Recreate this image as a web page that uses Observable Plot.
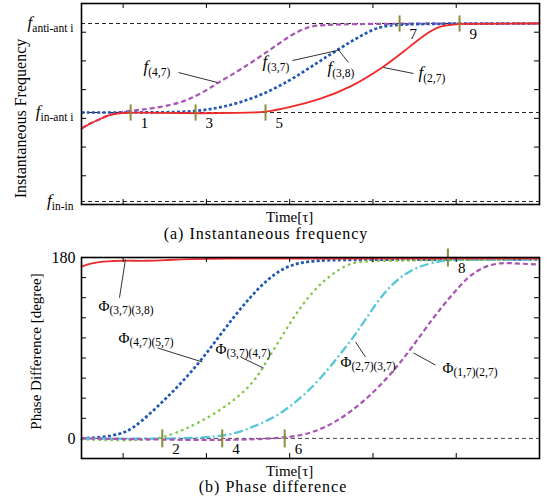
<!DOCTYPE html>
<html><head><meta charset="utf-8">
<script src="https://cdn.jsdelivr.net/npm/d3@7"></script>
<script src="https://cdn.jsdelivr.net/npm/@observablehq/plot@0.6"></script>
<style>
body{margin:0;background:#fff;}
#wrap{position:relative;width:547px;height:500px;font-family:"Liberation Serif",serif;overflow:hidden;}
#wrap svg{display:block;position:absolute;left:0;}
.cap{position:absolute;font-size:16px;letter-spacing:1px;white-space:nowrap;transform:translateX(-50%);line-height:14px;color:#000;}
</style></head><body><div id="wrap"></div>
<script>
// ---------- data ----------
const timeTicks = [0.5, 1.5, 2.5, 3.5, 4.5];
const freqLevels = [0, 1, 2];
const freqLevelLabels = ["f_in-in", "f_in-ant i", "f_anti-ant i"];
const phaseTickLabels = [0, 180];
const phaseMinorTicks = [20, 40, 60, 80, 100, 120, 140, 160];

// (a) instantaneous frequency (0 = f in-in, 1 = f in-anti, 2 = f anti-anti)
const f47_t = [0,0.11,0.23,0.35,0.50,0.71,0.95,1.19,1.31,1.47,1.63,1.91,2.23,2.51,2.71,2.91,5.5];
const f47_v = [0.82,0.88,0.93,0.98,1.01,1.03,1.06,1.11,1.16,1.23,1.33,1.48,1.68,1.87,1.96,2.0,2.0];
const f37_t = [0,0.47,0.95,1.37,1.71,2.11,2.51,2.83,3.07,3.31,3.55,3.80,5.5];
const f37_v = [1.0,1.0,1.0,1.01,1.06,1.17,1.36,1.56,1.70,1.84,1.96,2.0,2.0];
const f27_t = [0,0.11,0.23,0.35,0.47,0.65,0.95,1.43,1.91,2.21,2.51,2.87,3.23,3.63,3.89,4.11,4.31,4.52,5.5];
const f27_v = [0.82,0.88,0.93,0.98,0.995,1.0,0.995,0.99,0.995,1.0,1.06,1.15,1.28,1.51,1.70,1.87,1.98,2.0,2.0];

const fMarkT = [0.59, 1.37, 2.21, 3.82, 4.54];
const fMarkV = [1.0, 1.0, 1.0, 2.0, 2.0];
const fMarkLabels = ["1", "3", "5", "7", "9"];

const fLabels = ["f_(4,7)", "f_(3,7)", "f_(3,8)", "f_(2,7)"];
const fLabelT = [0.745, 2.174, 2.954, 4.047];
const fLabelV = [1.506, 1.562, 1.494, 1.438];
const fLeadT1 = [1.165, 2.534, 3.074, 3.627];
const fLeadV1 = [1.449, 1.584, 1.719, 1.506];
const fLeadT2 = [1.633, 3.074, 3.206, 3.987];
const fLeadV2 = [1.337, 1.697, 1.562, 1.438];

// (b) phase difference [degree]
const p3738_t = [0,0.11,0.23,0.38,0.50,0.79,1.03,1.31,1.70,2.63,5.5];
const p3738_v = [171,174,176,176.5,177,176.5,177.5,178.5,179,179,179];
const p4757_t = [0,0.23,0.47,0.62,0.83,1.03,1.22,1.43,1.63,1.83,2.03,2.23,2.43,2.63,2.83,3.23,5.5];
const p4757_v = [0,1,4,10,25,41,57,77,99,121,141,158,170,175,177,178,178];
const p3747_t = [0,0.47,0.83,0.98,1.22,1.63,2.03,2.19,2.43,2.63,2.83,3.03,3.23,3.47,5.5];
const p3747_v = [-1,-2,-1.5,1,8,25,51,72,105,131,151,165,175,177,178];
const p2737_t = [0,0.83,1.69,2.03,2.43,2.83,3.07,3.27,3.43,3.63,3.83,4.04,4.28,4.43,5.5];
const p2737_v = [0,-0.5,0.5,10,25,55,80,101,121,145,161,171,176,178,178];
const p1727_t = [0,0.83,1.69,2.45,2.83,3.23,3.63,3.95,4.23,4.43,4.64,4.83,5.03,5.24,5.5];
const p1727_v = [0,-1,-2,0,6,25,55,88,121,141,161,171,175,174,173];

const pMarkT = [0.97, 1.69, 2.44, 4.40];
const pMarkV = [0, 0, 0, 180];
const pMarkLabels = ["2", "4", "6", "8"];

const pLabels = ["Φ_(3,7)(3,8)", "Φ_(4,7)(5,7)", "Φ_(3,7)(4,7)", "Φ_(2,7)(3,7)", "Φ_(1,7)(2,7)"];
const pLabelT = [0.204, 0.444, 1.609, 3.110, 4.335];
const pLabelV = [132, 100, 89, 76, 70];
const pLeadT1 = [0.528, 0.913, 1.909, 3.29, 3.987];
const pLeadV1 = [178, 90, 81, 96, 85];
const pLeadT2 = [0.456, 1.453, 2.186, 3.41, 4.251];
const pLeadV2 = [140, 76, 70, 81, 73];

// ---------- helpers ----------
const series = (t, v) => t.map((x, i) => ({t: x, v: v[i]}));
const pts = (t, v, lab) => t.map((x, i) => ({t: x, v: v[i], label: lab ? lab[i] : null}));
const links = (t1, v1, t2, v2) => t1.map((x, i) => ({t1: x, v1: v1[i], t2: t2[i], v2: v2[i]}));
const vbar = {draw(ctx, size) { const h = Math.sqrt(size / Math.PI) * 1.8; ctx.moveTo(0, -h); ctx.lineTo(0, h); }};

const C = {red: "#ee2a2a", purple: "#a854b4", blue: "#2359b2", green: "#7fc64a", cyan: "#55c7d9", olive: "#8c8c3c"};
const W = 547, ML = 81, MR = 8;
const FW = W - ML - MR;
const FH = 201;
const xDomain = [0, 5.5];
const CURVE = "basis";

function frameTicks(yTicks) {
  return [
    Plot.tickX(timeTicks, {x: d => d, insetTop: FH - 5, stroke: "#000", strokeWidth: 1}),
    Plot.tickX(timeTicks, {x: d => d, insetBottom: FH - 5, stroke: "#000", strokeWidth: 1}),
    Plot.tickY(yTicks, {y: d => d, insetRight: FW - 5, stroke: "#000", strokeWidth: 1}),
    Plot.tickY(yTicks, {y: d => d, insetLeft: FW - 5, stroke: "#000", strokeWidth: 1})
  ];
}

const NS = "http://www.w3.org/2000/svg";
function subscriptify(svg) {
  svg.querySelectorAll("text").forEach(t => {
    const s = t.textContent;
    const k = s.indexOf("_");
    if (k < 0) return;
    const base = s.slice(0, k), sub = s.slice(k + 1);
    t.textContent = "";
    const b = document.createElementNS(NS, "tspan");
    b.textContent = base;
    if (base === "f") { b.setAttribute("font-style", "italic"); b.setAttribute("font-size", "17"); }
    else b.setAttribute("font-size", "15");
    const u = document.createElementNS(NS, "tspan");
    u.textContent = sub;
    u.setAttribute("font-size", "11.5");
    u.setAttribute("dy", "0.3em");
    t.append(b, u);
  });
}
function squeeze(svg, len) {
  svg.querySelectorAll('[aria-label="ylabel"] text').forEach(t => {
    t.setAttribute("textLength", len);
    t.setAttribute("lengthAdjust", "spacingAndGlyphs");
  });
}

// ---------- (a) ----------
const yTop = [-0.034, 2.225];
const yTopTicks = d3.range(1, 7).map(i => yTop[0] + i * (yTop[1] - yTop[0]) / 7);
const topMT = 3, topMB = 23;
const topPlot = Plot.plot({
  width: W, height: topMT + FH + topMB,
  marginLeft: ML, marginRight: MR, marginTop: topMT, marginBottom: topMB,
  x: {domain: xDomain, axis: null},
  y: {domain: yTop, axis: null},
  style: {fontFamily: "Liberation Serif, serif", fontSize: "15px", background: "white", color: "#000"},
  marks: [
    Plot.ruleY(freqLevels, {y: d => d, stroke: "#222", strokeWidth: 1, strokeDasharray: "4,3"}),
    Plot.line(series(f47_t, f47_v), {x: "t", y: "v", stroke: C.purple, strokeWidth: 2.2, strokeDasharray: "5,3", strokeLinecap: "butt", curve: CURVE}),
    Plot.line(series(f37_t, f37_v), {x: "t", y: "v", stroke: C.blue, strokeWidth: 2.7, strokeDasharray: "3,2.3", strokeLinecap: "butt", curve: CURVE}),
    Plot.line(series(f27_t, f27_v), {x: "t", y: "v", stroke: C.red, strokeWidth: 1.8, curve: CURVE}),
    Plot.dot(pts(fMarkT, fMarkV), {x: "t", y: "v", symbol: vbar, r: 4.5, stroke: C.olive, strokeWidth: 2, fill: "none"}),
    Plot.text(pts(fMarkT, fMarkV, fMarkLabels), {x: "t", y: "v", text: "label", dx: 10, dy: 11, textAnchor: "start", fontSize: 15}),
    Plot.link(links(fLeadT1, fLeadV1, fLeadT2, fLeadV2), {x1: "t1", y1: "v1", x2: "t2", y2: "v2", stroke: "#000", strokeWidth: 0.8}),
    Plot.text(pts(fLabelT, fLabelV, fLabels), {x: "t", y: "v", text: "label", textAnchor: "start"}),
    ...frameTicks(yTopTicks),
    Plot.frame({stroke: "#000", strokeWidth: 1.6}),
    Plot.axisY(freqLevels, {tickSize: 0, tickPadding: 8, tickFormat: d => freqLevelLabels[freqLevels.indexOf(d)], fontSize: 15}),
    Plot.text(["Time[τ]"], {x: () => timeTicks[2], frameAnchor: "bottom", lineAnchor: "middle", dy: 13, fontSize: 15}),
    Plot.text(["Instantaneous Frequency"], {frameAnchor: "left", textAnchor: "middle", lineAnchor: "middle", rotate: -90, dx: -61, dy: 14.5, fontSize: 16, ariaLabel: "ylabel"})
  ]
});

// ---------- (b) ----------
const yBot = [-20, 180];
const botMT = 16, botMB = 22;
const botPlot = Plot.plot({
  width: W, height: botMT + FH + botMB,
  marginLeft: ML, marginRight: MR, marginTop: botMT, marginBottom: botMB,
  x: {domain: xDomain, axis: null},
  y: {domain: yBot, axis: null},
  style: {fontFamily: "Liberation Serif, serif", fontSize: "15px", background: "white", color: "#000"},
  marks: [
    Plot.ruleY([0], {y: d => d, stroke: "#444", strokeWidth: 1, strokeDasharray: "4,3"}),
    Plot.line(series(p4757_t, p4757_v), {x: "t", y: "v", stroke: C.blue, strokeWidth: 2.7, strokeDasharray: "3,2.3", strokeLinecap: "butt", curve: CURVE}),
    Plot.line(series(p3747_t, p3747_v), {x: "t", y: "v", stroke: C.green, strokeWidth: 2.4, strokeDasharray: "0.5,5.5", strokeLinecap: "round", curve: CURVE}),
    Plot.line(series(p2737_t, p2737_v), {x: "t", y: "v", stroke: C.cyan, strokeWidth: 2.3, strokeDasharray: "9,3,2,3", strokeLinecap: "butt", curve: CURVE}),
    Plot.line(series(p1727_t, p1727_v), {x: "t", y: "v", stroke: C.purple, strokeWidth: 2.2, strokeDasharray: "5,3", strokeLinecap: "butt", curve: CURVE}),
    Plot.line(series(p3738_t, p3738_v), {x: "t", y: "v", stroke: C.red, strokeWidth: 1.8, curve: CURVE}),
    Plot.dot(pts(pMarkT, pMarkV), {x: "t", y: "v", symbol: vbar, r: 5, stroke: C.olive, strokeWidth: 2, fill: "none"}),
    Plot.text(pts(pMarkT, pMarkV, pMarkLabels), {x: "t", y: "v", text: "label", dx: 10, dy: 11, textAnchor: "start", fontSize: 15}),
    Plot.link(links(pLeadT1, pLeadV1, pLeadT2, pLeadV2), {x1: "t1", y1: "v1", x2: "t2", y2: "v2", stroke: "#000", strokeWidth: 0.8}),
    Plot.text(pts(pLabelT, pLabelV, pLabels), {x: "t", y: "v", text: "label", textAnchor: "start"}),
    ...frameTicks(phaseMinorTicks),
    Plot.frame({stroke: "#000", strokeWidth: 1.6}),
    Plot.axisY(phaseTickLabels, {tickSize: 0, tickPadding: 6, fontSize: 16}),
    Plot.text(["Time[τ]"], {x: () => timeTicks[2], frameAnchor: "bottom", lineAnchor: "middle", dy: 12.5, fontSize: 15}),
    Plot.text(["Phase Difference [degree]"], {frameAnchor: "left", textAnchor: "middle", lineAnchor: "middle", rotate: -90, dx: -45.5, dy: -6.5, fontSize: 15, ariaLabel: "ylabel"})
  ]
});

subscriptify(topPlot); subscriptify(botPlot);
squeeze(topPlot, 117); squeeze(botPlot, 122);

const wrap = document.getElementById("wrap");
topPlot.style.top = "0px";
botPlot.style.top = "241px";
wrap.append(topPlot, botPlot);
const capA = document.createElement("div");
capA.className = "cap"; capA.textContent = "(a) Instantaneous frequency";
capA.style.left = "266px"; capA.style.top = "227px";
const capB = document.createElement("div");
capB.className = "cap"; capB.textContent = "(b) Phase difference";
capB.style.left = "273px"; capB.style.top = "480px";
wrap.append(capA, capB);
</script>
</body></html>
